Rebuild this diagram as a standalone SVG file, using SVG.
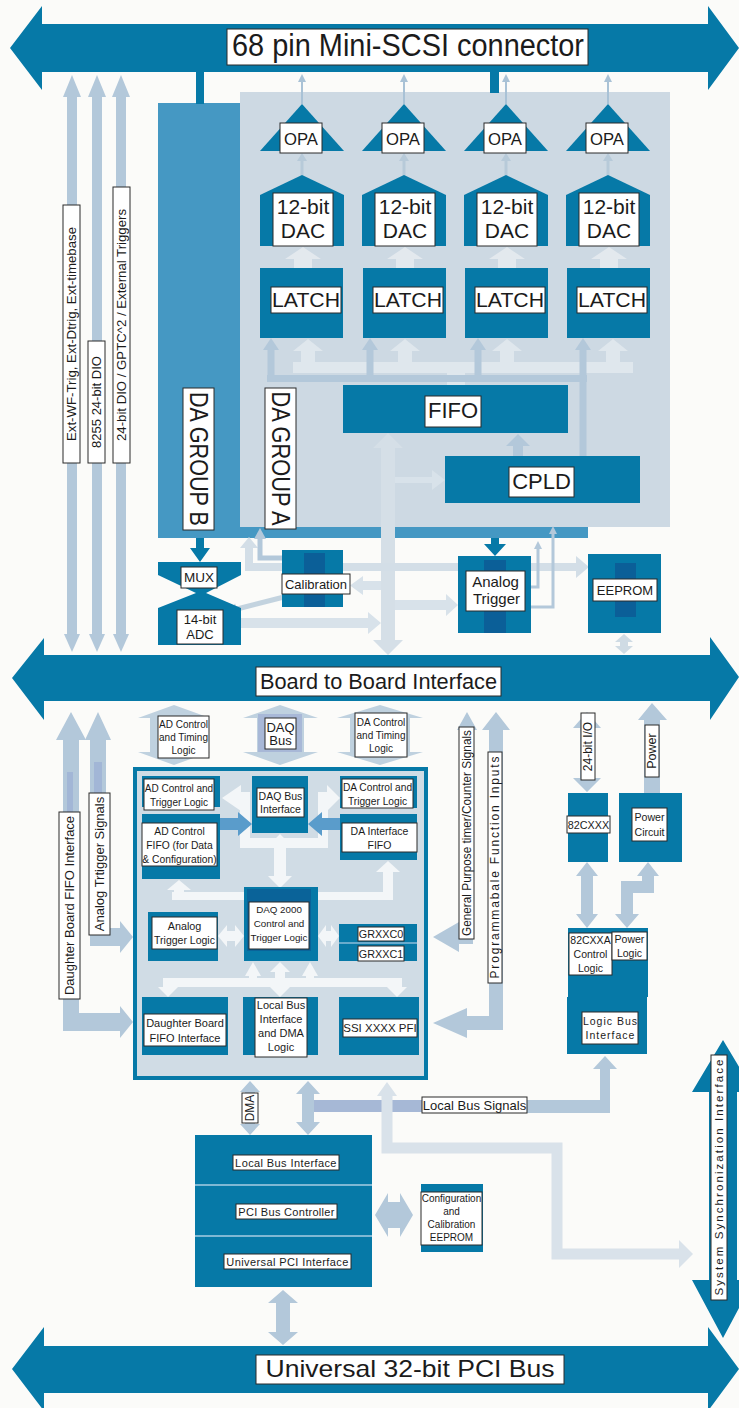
<svg xmlns="http://www.w3.org/2000/svg" width="739" height="1408" viewBox="0 0 739 1408">
<defs>
<style>
text{font-family:"Liberation Sans",Arial,Helvetica,sans-serif;fill:#1b1b1b;text-anchor:middle}
.dk{fill:#0679a7}
.md{fill:#4598c3}
.pn{fill:#cdd9e3}
.lb{fill:#b3c8da}
.pl{fill:#d8e2ea}
.wh{fill:#f3f6f8}
.sp{fill:#0b5f98}
.bl{fill:#5a9ccb}
.bx{fill:#fff;stroke:#2a2a2a;stroke-width:1}
</style>
</defs>
<rect width="739" height="1408" fill="#fbfbf9"/>

<g id="da-group-b">
<rect class="md" x="158" y="103" width="430" height="435"/>
</g>
<g id="da-group-a">
<rect class="pn" x="240" y="92" width="430" height="435"/>
</g>
<g id="daq2000-block">
<rect x="135" y="769" width="291" height="309" fill="#d0dce5" stroke="#0679a7" stroke-width="4"/>
</g>

<g id="connectors">
<!-- left top vertical arrows -->
<rect class="lb" x="67" y="92" width="10" height="544"/><polygon class="lb" points="63,97 72,75 81,97"/><polygon class="lb" points="64,634 72,652 80,634"/>
<rect class="lb" x="92" y="92" width="10" height="544"/><polygon class="lb" points="88,97 97,75 106,97"/><polygon class="lb" points="89,634 97,652 105,634"/>
<rect class="lb" x="116" y="92" width="10" height="544"/><polygon class="lb" points="112,97 121,75 130,97"/><polygon class="lb" points="113,634 121,652 129,634"/>
<!-- stubs -->
<rect class="dk" x="196" y="70" width="8" height="34"/>
<rect class="dk" x="490" y="70" width="9" height="23"/>
<!-- OPA to connector thin arrows -->
<g stroke="#a9c2d6" stroke-width="2">
<line x1="302" y1="104" x2="302" y2="80"/><line x1="404" y1="104" x2="404" y2="80"/><line x1="506" y1="104" x2="506" y2="80"/><line x1="608" y1="104" x2="608" y2="80"/>
</g>
<g fill="#a9c2d6">
<polygon points="298,82 302,74 306,82"/><polygon points="400,82 404,74 408,82"/><polygon points="502,82 506,74 510,82"/><polygon points="604,82 608,74 612,82"/>
</g>
<!-- DAC to OPA -->
<g stroke="#b7cad9" stroke-width="3">
<line x1="302" y1="176" x2="302" y2="160"/><line x1="404" y1="176" x2="404" y2="160"/><line x1="506" y1="176" x2="506" y2="160"/><line x1="608" y1="176" x2="608" y2="160"/>
</g>
<g fill="#b7cad9">
<polygon points="297,161 302,153 307,161"/><polygon points="399,161 404,153 409,161"/><polygon points="501,161 506,153 511,161"/><polygon points="603,161 608,153 613,161"/>
</g>
<!-- LATCH to DAC wide pale -->
<g fill="#e3e9ee">
<polygon points="294,268 294,259 285,259 303,247 321,259 312,259 312,268"/>
<polygon points="396,268 396,259 387,259 405,247 423,259 414,259 414,268"/>
<polygon points="498,268 498,259 489,259 507,247 525,259 516,259 516,268"/>
<polygon points="600,268 600,259 591,259 609,247 627,259 618,259 618,268"/>
</g>
<!-- FIFO data bus (pale) to latches -->
<g fill="#dfe7ed">
<rect x="293" y="362" width="340" height="11"/>
<rect x="447" y="372" width="18" height="14"/>
<polygon points="301,373 301,351 293,351 308,339 323,351 315,351 315,373"/>
<polygon points="398,373 398,351 390,351 405,339 420,351 412,351 412,373"/>
<polygon points="500,373 500,351 492,351 507,339 522,351 514,351 514,373"/>
<polygon points="606,373 606,351 598,351 613,339 628,351 620,351 620,373"/>
</g>
<!-- CPLD control bus to latches -->
<g class="lb">
<rect x="267" y="375" width="320" height="7"/>
<rect x="267.5" y="349" width="7" height="33"/><polygon points="263,350 271,338 279,350"/>
<rect x="366.5" y="349" width="7" height="33"/><polygon points="362,350 370,338 378,350"/>
<rect x="474.5" y="349" width="7" height="33"/><polygon points="470,350 478,338 486,350"/>
<rect x="579.5" y="349" width="7" height="107"/><polygon points="575,350 583,338 591,350"/>
<polygon points="513,456 513,446 506,446 518,434 530,446 523,446 523,456"/>
</g>
<!-- big pale vertical -->
<polygon fill="#d5dfe7" points="388,433 403,448 395,448 395,640 403,640 388,655 373,640 381,640 381,448 373,448"/>
<polygon class="pl" points="395,477 432,477 432,470 445,480 432,490 432,483 395,483"/>
<!-- below panel -->
<g fill="#d3dee7">
<rect x="245" y="563" width="331" height="8"/>
<polygon points="576,556 589,567 576,578"/>
<rect x="245" y="546" width="8" height="25"/>
<polygon points="240,548 249,537 258,548"/>
</g>
<path d="M282,558 H260 V537" fill="none" stroke="#b3c8da" stroke-width="5"/>
<polygon class="lb" points="254,539 260,528 266,539"/>
<line x1="284" y1="597" x2="237" y2="609" stroke="#c3d3df" stroke-width="5"/>
<polygon fill="#c3d3df" points="226,612 238.2,615.1 235.2,603.5"/>
<polygon class="pl" points="381,581 363,581 363,576 350,585.5 363,595 363,590 381,590"/>
<polygon class="pl" points="241,618 368,618 368,612 381,623 368,634 368,628 241,628"/>
<polygon class="pl" points="395,600 446,600 446,594 458,605 446,616 446,610 395,610"/>
<path d="M531,587 H538 V548 M531,607 H553 V533" fill="none" stroke="#b3c8da" stroke-width="3"/>
<polygon class="lb" points="534,549 538,541 542,549"/>
<polygon class="lb" points="549,534 553,526 557,534"/>
<polygon class="dk" points="196,538 204,538 204,548 210,548 200,562 190,548 196,548"/>
<polygon class="dk" points="491,538 499,538 499,544 506,544 495,556 484,544 491,544"/>
<polygon fill="#cfdbe4" points="624,634 633,642 628,642 628,646 633,646 624,654 615,646 620,646 620,642 615,642"/>

<!-- lower region: from board bus -->
<polygon fill="#bfd1df" points="138,718 174,705 210,718 198,718 198,752 210,752 174,765 138,752 150,752 150,718"/>
<polygon fill="#bfd1df" points="243,718 280,705 318,718 304,718 304,752 318,752 280,765 243,752 257,752 257,718"/>
<rect x="258" y="714" width="44" height="38" fill="#a8b8d7"/>
<polygon fill="#bfd1df" points="337,718 380,705 423,718 410,718 410,752 423,752 380,765 337,752 350,752 350,718"/>
<polygon class="lb" points="71,712 86,740 79,740 79,1013 120,1013 120,1006 133,1022 120,1038 120,1031 63,1031 63,740 56,740"/>
<rect x="67" y="772" width="6" height="40" fill="#a2b6d6"/>
<polygon class="lb" points="98,712 111,740 106,740 106,928 120,928 120,921 133,937 120,953 120,946 90,946 90,740 85,740"/>
<rect x="94" y="762" width="8" height="31" fill="#a2b6d6"/>
<polygon class="lb" points="467,712 477,730 473,730 473,944 459,944 459,952 433,937 459,922 459,930 461,930 461,730 457,730"/>
<polygon class="lb" points="496,712 510,730 503,730 503,1030 467,1030 467,1038 433,1023 467,1008 467,1016 489,1016 489,730 482,730"/>
<polygon class="lb" points="587,712 601,728 594,728 594,778 601,778 587,792 573,778 580,778 580,728 573,728"/>
<polygon class="lb" points="652,703 667,720 660,720 660,793 644,793 644,720 638,720"/>
<polygon class="lb" points="587,862 598,876 593,876 593,914 598,914 587,928 576,914 581,914 581,876 576,876"/>
<polygon class="lb" points="648,862 659,876 654,876 654,893 633,893 633,914 639,914 627,928 615,914 621,914 621,881 642,881 642,876 637,876"/>

<!-- inside DAQ 2000 block -->
<g class="wh">
<polygon points="280,834 292,846 286,846 286,876 292,876 280,888 268,876 274,876 274,846 268,846"/>
<rect x="240" y="838" width="88" height="10"/>
<rect x="240" y="792" width="10" height="56"/>
<polygon points="241,785 222,798 241,811"/>
<rect x="318" y="792" width="10" height="56"/>
<polygon points="327,785 340,798 327,811"/>
<rect x="172" y="892" width="221" height="8"/>
<rect x="174" y="884" width="10" height="10"/>
<polygon points="167,890 179,880 191,890"/>
<rect x="383" y="870" width="10" height="24"/>
<polygon points="376,872 388,861 400,872"/>
<polygon points="218,936 227,925 227,931 235,931 235,925 244,936 235,947 235,941 227,941 227,947"/>
<polygon points="318,936 326,925 326,931 331,931 331,925 339,936 331,947 331,941 326,941 326,947"/>
<rect x="163" y="978" width="239" height="9"/>
<polygon points="158,987 168,997 178,987"/>
<polygon points="387,987 397,997 407,987"/>
<rect x="249" y="972" width="8" height="8"/><polygon points="245,976 253,962 261,976"/>
<rect x="306" y="972" width="8" height="8"/><polygon points="302,976 310,962 318,976"/>
<polygon points="280,962 290,972 285,972 285,987 290,987 280,997 270,987 275,987 275,972 270,972"/>
</g>
<polygon class="bl" points="220,818 238,818 238,812 252,824 238,836 238,830 220,830"/>
<polygon class="bl" points="340,818 322,818 322,812 308,824 322,836 322,830 340,830"/>

<!-- local bus area -->
<polygon class="lb" points="250,1081 260,1092 255,1092 255,1124 260,1124 250,1135 240,1124 245,1124 245,1092 240,1092"/>
<polygon class="lb" points="308,1081 320,1094 314,1094 314,1122 320,1122 308,1135 296,1122 302,1122 302,1094 296,1094"/>
<rect x="314" y="1100" width="110" height="12" fill="#a6b8d6"/>
<rect class="lb" x="424" y="1100" width="186" height="13"/>
<rect class="lb" x="600" y="1068" width="10" height="45"/>
<polygon class="lb" points="593,1069 605,1056 617,1069"/>
<path d="M387,1094 V1148 H557 V1254 H680" fill="none" stroke="#d9e2ea" stroke-width="11"/>
<polygon fill="#d9e2ea" points="377,1096 387,1082 397,1096"/>
<polygon fill="#d9e2ea" points="679,1240 693,1254 679,1268"/>
<polygon class="lb" points="375,1215 388,1193 388,1202 400,1202 400,1193 413,1215 400,1237 400,1228 388,1228 388,1237"/>
<polygon class="lb" points="283,1290 298,1303 290,1303 290,1332 298,1332 283,1345 268,1332 276,1332 276,1303 268,1303"/>
</g>

<!-- buses -->
<g id="mini-scsi-connector">
<polygon class="dk" points="10,48 42,6 42,24 708,24 708,6 739,48 708,90 708,72 42,72 42,90"/>
<rect class="bx" x="227" y="29" width="361" height="36"/>
<text x="408" y="56" font-size="31" textLength="352" lengthAdjust="spacingAndGlyphs">68 pin Mini-SCSI connector</text>
</g>
<g id="board-to-board-interface">
<polygon class="dk" points="12,678 44,638 44,655 710,655 710,637 739,677 710,720 710,701 44,701 44,720"/>
<rect class="bx" x="256" y="667" width="245" height="29"/>
<text x="378.5" y="689" font-size="22" textLength="237" lengthAdjust="spacingAndGlyphs">Board to Board Interface</text>
</g>
<g id="pci-bus">
<polygon class="dk" points="12,1369 44,1327 44,1346 708,1346 708,1327 739,1369 708,1411 708,1393 44,1393 44,1411"/>
<rect class="bx" x="256" y="1355" width="308" height="29"/>
<text x="410" y="1377" font-size="24" textLength="289" lengthAdjust="spacingAndGlyphs">Universal 32-bit PCI Bus</text>
</g>
<g id="system-sync-interface">
<polygon class="dk" points="723,1040 754,1092 737,1092 737,1280 754,1280 723,1338 692,1280 709,1280 709,1092 692,1092"/>
<rect class="bx" x="711" y="1055" width="16" height="245"/>
<text transform="translate(719,1177.5) rotate(-90)" dy="0.35em" font-size="11.5" textLength="236" lengthAdjust="spacing">System Synchronization Interface</text>
</g>

<!-- left labels -->
<g id="ext-trig-label">
<rect class="bx" x="63" y="205" width="17" height="258"/>
<text transform="translate(71.5,334) rotate(-90)" dy="0.35em" font-size="13" textLength="214" lengthAdjust="spacingAndGlyphs">Ext-WF-Trig, Ext-Dtrig, Ext-timebase</text>
</g>
<g id="dio8255-label">
<rect class="bx" x="88" y="341" width="17" height="122"/>
<text transform="translate(96.5,402) rotate(-90)" dy="0.35em" font-size="13">8255 24-bit DIO</text>
</g>
<g id="dio-gptc-label">
<rect class="bx" x="113" y="187" width="17" height="276"/>
<text transform="translate(121.5,325) rotate(-90)" dy="0.35em" font-size="13" textLength="232" lengthAdjust="spacingAndGlyphs">24-bit DIO / GPTC^2 / External Triggers</text>
</g>
<g id="da-group-b-label">
<rect class="bx" x="183" y="388" width="31" height="142"/>
<text transform="translate(198.5,459) rotate(90)" dy="0.35em" font-size="25" textLength="134" lengthAdjust="spacingAndGlyphs">DA GROUP B</text>
</g>
<g id="da-group-a-label">
<rect class="bx" x="265" y="388" width="31" height="141"/>
<text transform="translate(280.5,458.5) rotate(90)" dy="0.35em" font-size="25" textLength="134" lengthAdjust="spacingAndGlyphs">DA GROUP A</text>
</g>

<!-- DAC channels -->
<g id="opa-1"><polygon class="dk" points="302,104 260,151 344,151"/><rect class="bx" x="280" y="123" width="42" height="30"/><text x="301" y="145" font-size="17" textLength="34" lengthAdjust="spacingAndGlyphs">OPA</text></g>
<g id="opa-2"><polygon class="dk" points="404,104 362,151 446,151"/><rect class="bx" x="382" y="123" width="42" height="30"/><text x="403" y="145" font-size="17" textLength="34" lengthAdjust="spacingAndGlyphs">OPA</text></g>
<g id="opa-3"><polygon class="dk" points="506,104 464,151 548,151"/><rect class="bx" x="484" y="123" width="42" height="30"/><text x="505" y="145" font-size="17" textLength="34" lengthAdjust="spacingAndGlyphs">OPA</text></g>
<g id="opa-4"><polygon class="dk" points="608,104 566,151 650,151"/><rect class="bx" x="586" y="123" width="42" height="30"/><text x="607" y="145" font-size="17" textLength="34" lengthAdjust="spacingAndGlyphs">OPA</text></g>

<g id="dac-1"><polygon class="dk" points="302,175 344,195 344,246 260,246 260,195"/><rect class="bx" x="273" y="193" width="60" height="53"/><text x="303" y="214" font-size="21">12-bit</text><text x="303" y="238" font-size="21">DAC</text></g>
<g id="dac-2"><polygon class="dk" points="404,175 446,195 446,246 362,246 362,195"/><rect class="bx" x="375" y="193" width="60" height="53"/><text x="405" y="214" font-size="21">12-bit</text><text x="405" y="238" font-size="21">DAC</text></g>
<g id="dac-3"><polygon class="dk" points="506,175 548,195 548,246 464,246 464,195"/><rect class="bx" x="477" y="193" width="60" height="53"/><text x="507" y="214" font-size="21">12-bit</text><text x="507" y="238" font-size="21">DAC</text></g>
<g id="dac-4"><polygon class="dk" points="608,175 650,195 650,246 566,246 566,195"/><rect class="bx" x="579" y="193" width="60" height="53"/><text x="609" y="214" font-size="21">12-bit</text><text x="609" y="238" font-size="21">DAC</text></g>

<g id="latch-1"><rect class="dk" x="260" y="268" width="83" height="70"/><rect class="bx" x="271" y="287" width="70" height="26"/><text x="306" y="307" font-size="21" textLength="68" lengthAdjust="spacingAndGlyphs">LATCH</text></g>
<g id="latch-2"><rect class="dk" x="363" y="268" width="83" height="70"/><rect class="bx" x="373" y="287" width="70" height="26"/><text x="408" y="307" font-size="21" textLength="68" lengthAdjust="spacingAndGlyphs">LATCH</text></g>
<g id="latch-3"><rect class="dk" x="465" y="268" width="83" height="70"/><rect class="bx" x="475" y="287" width="70" height="26"/><text x="510" y="307" font-size="21" textLength="68" lengthAdjust="spacingAndGlyphs">LATCH</text></g>
<g id="latch-4"><rect class="dk" x="567" y="268" width="83" height="70"/><rect class="bx" x="577" y="287" width="70" height="26"/><text x="612" y="307" font-size="21" textLength="68" lengthAdjust="spacingAndGlyphs">LATCH</text></g>

<g id="fifo"><rect class="dk" x="343" y="385" width="225" height="48"/><rect class="bx" x="425" y="396" width="56" height="31"/><text x="453" y="418" font-size="22">FIFO</text></g>
<g id="cpld"><rect class="dk" x="445" y="456" width="195" height="47"/><rect class="bx" x="509" y="467" width="65" height="30"/><text x="541.5" y="489" font-size="22">CPLD</text></g>

<g id="mux-adc">
<polygon class="dk" points="158,562 241,562 241,575 206,593 241,608 241,645 158,645 158,608 196,593 158,575"/>
<rect class="bx" x="181" y="567" width="36" height="21"/><text x="199" y="582" font-size="13.5">MUX</text>
<rect class="bx" x="177" y="610" width="46" height="34"/><text x="200" y="624" font-size="13">14-bit</text><text x="200" y="639" font-size="13">ADC</text>
</g>
<g id="calibration"><rect class="dk" x="282" y="550" width="61" height="57"/><rect class="sp" x="304" y="553" width="21" height="54"/><rect class="bx" x="282" y="574" width="68" height="20"/><text x="316" y="588.5" font-size="13">Calibration</text></g>
<g id="analog-trigger"><rect class="dk" x="458" y="556" width="73" height="77"/><rect class="sp" x="484" y="560" width="22" height="73"/><rect class="bx" x="466" y="571" width="59" height="40"/><text x="495.5" y="587" font-size="15">Analog</text><text x="496.5" y="604" font-size="15">Trigger</text></g>
<g id="eeprom"><rect class="dk" x="588" y="554" width="73" height="79"/><rect class="sp" x="615" y="563" width="21" height="54"/><rect class="bx" x="593" y="579" width="64" height="22"/><text x="625" y="594.5" font-size="13">EEPROM</text></g>

<!-- lower region labels on arrows -->
<g id="ad-control-timing"><rect class="bx" x="158" y="716" width="51" height="42"/><text x="183.5" y="728" font-size="10">AD Control</text><text x="183.5" y="741" font-size="10">and Timing</text><text x="183.5" y="754" font-size="10">Logic</text></g>
<g id="daq-bus"><rect class="bx" x="265" y="718" width="31" height="31"/><text x="280.5" y="731.5" font-size="13">DAQ</text><text x="280.5" y="745" font-size="13">Bus</text></g>
<g id="da-control-timing"><rect class="bx" x="355" y="713" width="52" height="44"/><text x="381" y="726" font-size="10">DA Control</text><text x="381" y="739" font-size="10">and Timing</text><text x="381" y="752" font-size="10">Logic</text></g>
<g id="daughter-fifo-label"><rect class="bx" x="59" y="812" width="21" height="187"/><text transform="translate(69.5,905.5) rotate(-90)" dy="0.35em" font-size="13">Daughter Board FIFO Interface</text></g>
<g id="analog-trigger-signals-label"><rect class="bx" x="89" y="793" width="21" height="142"/><text transform="translate(99.5,864) rotate(-90)" dy="0.35em" font-size="13">Analog Trtigger Signals</text></g>
<g id="gp-timer-label"><rect class="bx" x="459" y="727" width="15" height="212"/><text transform="translate(466.5,833) rotate(-90)" dy="0.35em" font-size="12" textLength="206" lengthAdjust="spacingAndGlyphs">General Purpose timer/Counter Signals</text></g>
<g id="pfi-label"><rect class="bx" x="488" y="752" width="14" height="231"/><text transform="translate(495,867.5) rotate(-90)" dy="0.35em" font-size="12" textLength="222" lengthAdjust="spacing">Programmabale Function Inputs</text></g>
<g id="io24-label"><rect class="bx" x="581" y="713" width="14" height="67"/><text transform="translate(588,746.5) rotate(-90)" dy="0.35em" font-size="12">24-bit I/O</text></g>
<g id="power-label"><rect class="bx" x="645" y="725" width="14" height="52"/><text transform="translate(652,751) rotate(-90)" dy="0.35em" font-size="12.5">Power</text></g>

<!-- DAQ 2000 inner nodes -->
<g id="ad-control-trigger"><rect class="dk" x="142" y="776" width="78" height="31"/><rect class="bx" x="144" y="779" width="70" height="31"/><text x="179" y="792" font-size="10">AD Control and</text><text x="179" y="806" font-size="10">Trigger Logic</text></g>
<g id="ad-control-fifo"><rect class="dk" x="142" y="814" width="78" height="65"/><rect class="bx" x="142" y="823" width="75" height="43"/><text x="179.5" y="835" font-size="10.3">AD Control</text><text x="179.5" y="849" font-size="10.3">FIFO (for Data</text><text x="179.5" y="863" font-size="10.3">&amp; Configuration)</text></g>
<g id="daq-bus-interface"><rect class="dk" x="252" y="776" width="56" height="57"/><rect class="bx" x="257" y="788" width="47" height="29"/><text x="280.5" y="800" font-size="10.5">DAQ Bus</text><text x="280.5" y="813" font-size="10.5">Interface</text></g>
<g id="da-control-trigger"><rect class="dk" x="340" y="776" width="77" height="32"/><rect class="bx" x="342" y="779" width="71" height="29"/><text x="377.5" y="791" font-size="10.2">DA Control and</text><text x="377.5" y="805" font-size="10.2">Trigger Logic</text></g>
<g id="da-interface-fifo"><rect class="dk" x="340" y="814" width="77" height="46"/><rect class="bx" x="342" y="823" width="75" height="29"/><text x="379.5" y="835" font-size="10.5">DA Interface</text><text x="379.5" y="849" font-size="10.5">FIFO</text></g>
<g id="analog-trigger-logic"><rect class="dk" x="148" y="912" width="70" height="49"/><rect class="bx" x="152" y="917" width="65" height="32"/><text x="184.5" y="930" font-size="10.8">Analog</text><text x="184.5" y="944" font-size="10.5">Trigger Logic</text></g>
<g id="daq2000-control"><rect class="dk" x="244" y="887" width="74" height="74"/><rect x="247" y="889" width="64" height="62" fill="#0a6399"/><rect class="bx" x="249" y="902" width="60" height="47"/><text x="279" y="913" font-size="9.8">DAQ 2000</text><text x="279" y="927" font-size="9.8">Control and</text><text x="279" y="941" font-size="9.8">Trigger Logic</text></g>
<g id="grxxc"><rect class="dk" x="339" y="924" width="78" height="37"/><line x1="339" y1="943" x2="417" y2="943" stroke="#8bbdd8" stroke-width="1.5"/><rect class="bx" x="358" y="927" width="46" height="14"/><text x="381" y="938" font-size="10.8">GRXXC0</text><rect class="bx" x="358" y="946" width="46" height="15"/><text x="381" y="957.5" font-size="10.8">GRXXC1</text></g>
<g id="daughter-board-fifo"><rect class="dk" x="142" y="997" width="86" height="58"/><rect class="bx" x="144" y="1014" width="82" height="32"/><text x="185" y="1027" font-size="11">Daughter Board</text><text x="185" y="1042" font-size="11">FIFO Interface</text></g>
<g id="local-bus-dma"><rect class="dk" x="243" y="997" width="75" height="58"/><rect class="bx" x="255" y="998" width="52" height="59"/><text x="281" y="1009" font-size="11">Local Bus</text><text x="281" y="1023" font-size="11">Interface</text><text x="281" y="1037" font-size="11">and DMA</text><text x="281" y="1051" font-size="11">Logic</text></g>
<g id="ssi-pfi"><rect class="dk" x="339" y="997" width="80" height="58"/><rect class="bx" x="343" y="1019" width="74" height="18"/><text x="380" y="1032" font-size="11.5">SSI XXXX PFI</text></g>

<!-- right side -->
<g id="c82xxx"><rect class="dk" x="568" y="793" width="40" height="69"/><rect class="bx" x="567" y="816" width="43" height="17"/><text x="588.5" y="828.5" font-size="10.8">82CXXX</text></g>
<g id="power-circuit"><rect class="dk" x="619" y="793" width="63" height="69"/><rect class="bx" x="632" y="808" width="35" height="33"/><text x="649.5" y="821" font-size="10.6">Power</text><text x="649.5" y="836" font-size="10.6">Circuit</text></g>
<g id="control-logic-block">
<rect class="dk" x="568" y="928" width="80" height="69"/><rect class="dk" x="567" y="997" width="80" height="57"/>
<rect class="bx" x="569" y="933" width="43" height="42"/><text x="590.5" y="944" font-size="10.5">82CXXA</text><text x="590.5" y="958" font-size="10.5">Control</text><text x="590.5" y="972" font-size="10.5">Logic</text>
<rect class="bx" x="612" y="932" width="35" height="28"/><text x="629.5" y="943" font-size="10.5">Power</text><text x="629.5" y="957" font-size="10.5">Logic</text>
<rect class="bx" x="582" y="1012" width="56" height="32"/><text x="610.5" y="1025" font-size="10.5" letter-spacing="1">Logic Bus</text><text x="610.5" y="1039" font-size="10.5" letter-spacing="1">Interface</text>
</g>

<!-- local bus -->
<g id="dma-label"><rect class="bx" x="242" y="1093" width="16" height="30"/><text transform="translate(250,1108) rotate(-90)" dy="0.35em" font-size="12">DMA</text></g>
<g id="local-bus-signals-label"><rect class="bx" x="422" y="1097" width="105" height="16"/><text x="474.5" y="1109.5" font-size="13">Local Bus Signals</text></g>
<g id="pci-controller-block">
<rect class="dk" x="195" y="1135" width="177" height="152"/>
<line x1="195" y1="1185" x2="372" y2="1185" stroke="#7fb8d4" stroke-width="2"/>
<line x1="195" y1="1236" x2="372" y2="1236" stroke="#7fb8d4" stroke-width="2"/>
<rect class="bx" x="233" y="1155" width="106" height="15"/><text x="286" y="1166.5" font-size="11" letter-spacing="0.4">Local Bus Interface</text>
<rect class="bx" x="236" y="1204" width="101" height="15"/><text x="286.5" y="1215.5" font-size="11" letter-spacing="0.3">PCI Bus Controller</text>
<rect class="bx" x="224" y="1254" width="127" height="15"/><text x="287.5" y="1265.5" font-size="11" letter-spacing="0.4">Universal PCI Interface</text>
</g>
<g id="config-eeprom"><rect class="dk" x="421" y="1184" width="62" height="68"/><rect class="bx" x="421" y="1192" width="61" height="53"/><text x="451.5" y="1202" font-size="10">Configuration</text><text x="451.5" y="1215" font-size="10">and</text><text x="451.5" y="1228" font-size="10">Calibration</text><text x="451.5" y="1241" font-size="10">EEPROM</text></g>
</svg>
